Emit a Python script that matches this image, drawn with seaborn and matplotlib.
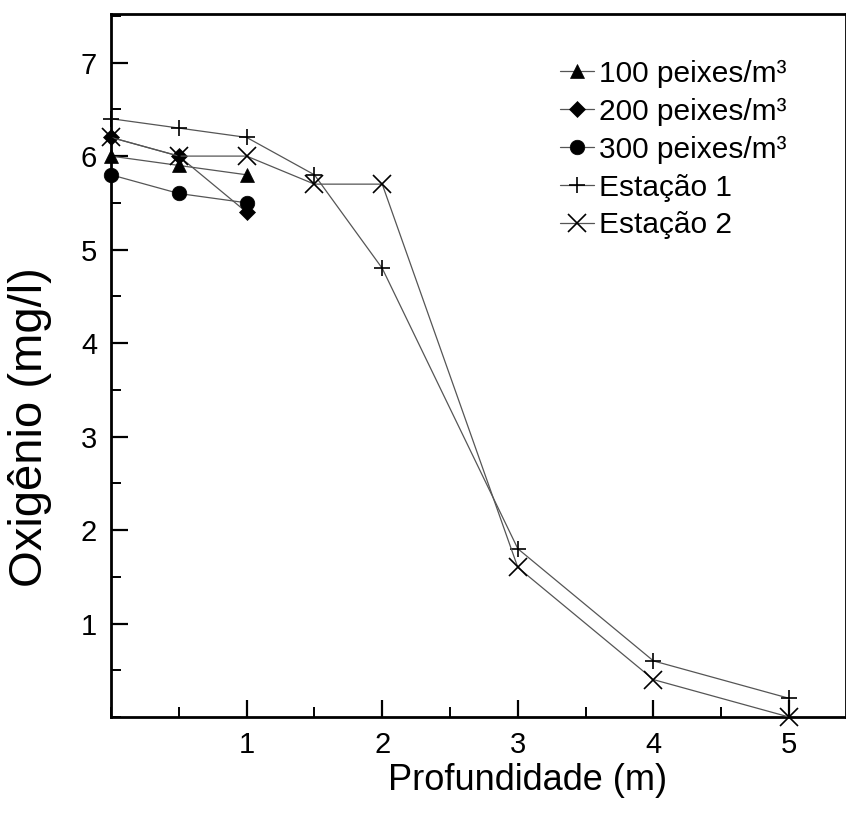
import matplotlib
matplotlib.use("Agg")
import matplotlib.pyplot as plt
from matplotlib import font_manager
import seaborn as sns
import pandas as pd
from matplotlib.ticker import MultipleLocator, FixedLocator

sns.set_style("ticks")
plt.rcParams['font.family'] = ['Liberation Sans', 'DejaVu Sans']
plt.rcParams['text.color'] = 'black'
plt.rcParams['axes.labelcolor'] = 'black'
plt.rcParams['xtick.color'] = 'black'
plt.rcParams['ytick.color'] = 'black'

# Data
depth_tanks = [0, 0.5, 1]
o2_100 = [6.0, 5.9, 5.8]
o2_200 = [6.2, 6.0, 5.4]
o2_300 = [5.8, 5.6, 5.5]
depth_st = [0, 0.5, 1, 1.5, 2, 3, 4, 5]
o2_st1 = [6.4, 6.3, 6.2, 5.8, 4.8, 1.8, 0.6, 0.2]
o2_st2 = [6.2, 6.0, 6.0, 5.7, 5.7, 1.6, 0.4, 0.0]
labels = ["100 peixes/m³", "200 peixes/m³", "300 peixes/m³", "Estação 1", "Estação 2"]
x_ticks = [1, 2, 3, 4, 5]
y_ticks = [1, 2, 3, 4, 5, 6, 7]

names = {f.name for f in font_manager.fontManager.ttflist}
if 'Liberation Sans Narrow' in names:
    xlab_family, xlab_size = ['Liberation Sans Narrow', 'DejaVu Sans'], 31
else:
    xlab_family, xlab_size = ['Liberation Sans', 'DejaVu Sans'], 26

fig = plt.figure(figsize=(8.46, 8.24), dpi=100)
ax = fig.add_axes([111/846, 107/824, 735/846, 703/824])

series = [
    (depth_tanks, o2_100, '^', 10, labels[0]),
    (depth_tanks, o2_200, 'D', 8, labels[1]),
    (depth_tanks, o2_300, 'o', 10.5, labels[2]),
    (depth_st, o2_st1, '+', 11, labels[3]),
    (depth_st, o2_st2, 'x', 12.5, labels[4]),
]
for xs, ys, mk, ms, lab in series:
    df = pd.DataFrame({'x': xs, 'y': ys})
    sns.lineplot(data=df, x='x', y='y', ax=ax, color='#555555', linewidth=0.9,
                 marker=mk, markersize=ms, markerfacecolor='black',
                 markeredgecolor='black', markeredgewidth=1.2 if mk in '+x' else 0.5,
                 label=lab, clip_on=False, zorder=3)

ax.set_xlim(0, 5.42)
ax.set_ylim(0, 7.52)
ax.xaxis.set_major_locator(FixedLocator(x_ticks))
ax.xaxis.set_minor_locator(MultipleLocator(0.5))
ax.yaxis.set_major_locator(FixedLocator(y_ticks))
ax.yaxis.set_minor_locator(MultipleLocator(0.5))
ax.tick_params(axis='both', which='major', direction='in', length=12, width=1.6,
               labelsize=21, top=False, right=False, colors='black')
ax.tick_params(axis='both', which='minor', direction='in', length=7, width=1.4,
               top=False, right=False)
ax.tick_params(axis='x', which='major', pad=10)
ax.tick_params(axis='y', which='major', pad=10)
for s in ax.spines.values():
    s.set_linewidth(2)
    s.set_color('black')

ax.set_xlabel("Profundidade (m)", fontsize=xlab_size, family=xlab_family)
ax.set_ylabel("Oxigênio (mg/l)", fontsize=34)
ax.xaxis.set_label_coords(0.567, -0.066)
ax.yaxis.set_label_coords(-0.08, 0.412)

leg = ax.legend(loc='upper left', bbox_to_anchor=(0.611, 0.935), frameon=False,
                fontsize=21.5, handlelength=1.15, handletextpad=0.15,
                labelspacing=0.33, borderpad=0, borderaxespad=0)

fig.savefig("out.png", dpi=100)
